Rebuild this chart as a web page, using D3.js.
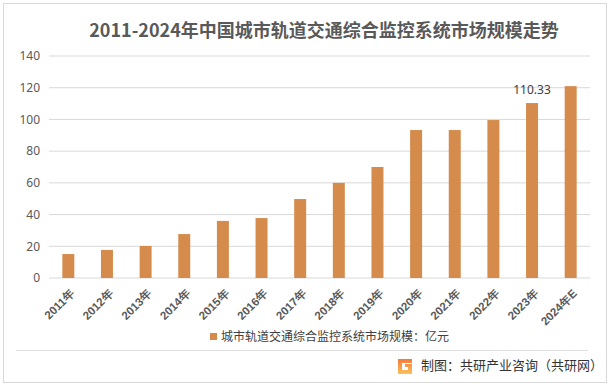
<!DOCTYPE html>
<html>
<head>
  <meta charset="utf-8">
  <style>
    body {
      margin: 0;
      background: white;
    }
    svg {
      font-family: "Noto Sans CJK SC", "Noto Sans", sans-serif;
    }
  </style>
</head>
<body>
  <script src="https://d3js.org/d3.v7.min.js"></script>
  <script>
    var years = ["2011年", "2012年", "2013年", "2014年", "2015年", "2016年", "2017年",
                 "2018年", "2019年", "2020年", "2021年", "2022年", "2023年", "2024年E"];
    var values = [15.1, 17.7, 20.2, 27.7, 36, 37.8, 49.8, 60, 70, 93.3, 93.3, 99.6, 110.33, 121];
    var yTicks = [0, 20, 40, 60, 80, 100, 120, 140];
    var labelled = ["2023年"];

    var width = 611, height = 389;
    var margin = {left: 49, right: 21, top: 56, bottom: 111};

    var svg = d3.select("body").append("svg")
        .attr("width", width)
        .attr("height", height);

    // outer frame
    svg.append("rect")
        .attr("x", 3.5).attr("y", 3.5)
        .attr("width", 603).attr("height", 379)
        .attr("fill", "white")
        .attr("stroke", "#d9d9d9");

    var x = d3.scaleBand()
        .domain(years)
        .range([margin.left, width - margin.right])
        .paddingInner(0.69)
        .paddingOuter(0.345);

    var y = d3.scaleLinear()
        .domain([0, 140])
        .range([height - margin.bottom, margin.top]);

    // gridlines
    svg.append("g")
        .selectAll("line")
        .data(yTicks)
      .enter().append("line")
        .attr("x1", margin.left)
        .attr("x2", width - margin.right)
        .attr("y1", d => y(d))
        .attr("y2", d => y(d))
        .attr("stroke", "#d9d9d9")
        .attr("stroke-width", 1);

    // y axis labels
    var yAxis = svg.append("g")
        .attr("transform", "translate(" + (margin.left - 9) + ",0)")
        .call(d3.axisLeft(y).tickValues(yTicks).tickSize(0).tickPadding(0));
    yAxis.select(".domain").remove();
    yAxis.selectAll("text")
        .attr("fill", "#595959")
        .style("font-size", "12px")
        .style("font-family", "'Noto Sans', sans-serif");

    // bars
    svg.append("g")
        .selectAll("rect")
        .data(values)
      .enter().append("rect")
        .attr("x", (d, i) => x(years[i]))
        .attr("width", x.bandwidth())
        .attr("y", d => y(d))
        .attr("height", d => y(0) - y(d))
        .attr("fill", "#d48b4b");

    // data label
    svg.append("g")
        .selectAll("text")
        .data(values.filter((d, i) => labelled.indexOf(years[i]) >= 0))
      .enter().append("text")
        .attr("x", d => x(years[values.indexOf(d)]) + x.bandwidth() / 2)
        .attr("y", d => y(d) - 9)
        .attr("text-anchor", "middle")
        .attr("fill", "#404040")
        .style("font-size", "12px")
        .style("font-family", "'Noto Sans', sans-serif")
        .text(d => d.toFixed(2));

    // x axis labels
    var xAxis = svg.append("g")
        .attr("transform", "translate(0," + (y(0) + 6) + ")")
        .call(d3.axisBottom(x).tickSize(0).tickPadding(0));
    xAxis.select(".domain").remove();
    xAxis.selectAll("text")
        .attr("fill", "#595959")
        .style("font-size", "11.5px")
        .style("font-weight", "bold")
        .attr("text-anchor", "end")
        .attr("dy", "0.7em")
        .attr("transform", "rotate(-45) translate(-2,4)");

    // title
    svg.append("text")
        .attr("x", 324)
        .attr("y", 37)
        .attr("text-anchor", "middle")
        .attr("fill", "#595959")
        .style("font-size", "18px")
        .style("font-weight", "bold")
        .text("2011-2024年中国城市轨道交通综合监控系统市场规模走势");

    // legend
    svg.append("rect")
        .attr("x", 210).attr("y", 333)
        .attr("width", 7).attr("height", 7)
        .attr("fill", "#d48b4b");
    svg.append("text")
        .attr("x", 221)
        .attr("y", 341)
        .attr("fill", "#404040")
        .style("font-size", "12px")
        .text("城市轨道交通综合监控系统市场规模：亿元");

    // separator
    svg.append("line")
        .attr("x1", 16).attr("x2", 588)
        .attr("y1", 350.5).attr("y2", 350.5)
        .attr("stroke", "#e0e0e0");

    // source logo
    var grad = svg.append("defs").append("linearGradient")
        .attr("id", "logo").attr("x1", 0).attr("y1", 0).attr("x2", 0).attr("y2", 1);
    grad.append("stop").attr("offset", "0").attr("stop-color", "#f47a3c");
    grad.append("stop").attr("offset", "1").attr("stop-color", "#f9c25a");
    svg.append("path")
        .attr("d", "M398,359 h14 v4 h-10 v7 h6 v-3 h-3 v-3 h7 v10 h-14 z")
        .attr("fill", "url(#logo)");

    svg.append("text")
        .attr("x", 421)
        .attr("y", 370)
        .attr("fill", "#333333")
        .style("font-size", "13px")
        .text("制图：共研产业咨询（共研网）");
  </script>
</body>
</html>
